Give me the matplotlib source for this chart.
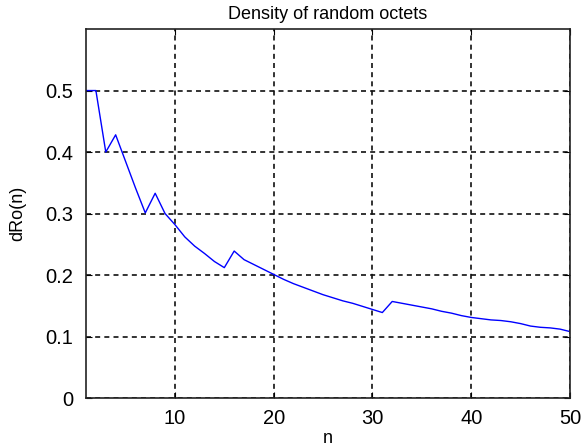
#!/usr/bin/env python3
"""Density of random octets, dRo(n) for n = 1..50 (MATLAB-style figure)."""

import matplotlib
matplotlib.use("Agg")
import matplotlib.pyplot as plt

n = list(range(1, 51))
dro = [
    0.500, 0.500, 0.400, 0.428, 0.385, 0.342, 0.301, 0.333, 0.300, 0.282,
    0.262, 0.247, 0.235, 0.222, 0.212, 0.239, 0.225, 0.217, 0.209, 0.201,
    0.193, 0.186, 0.180, 0.174, 0.168, 0.163, 0.158, 0.154, 0.149, 0.144,
    0.139, 0.157, 0.154, 0.151, 0.148, 0.145, 0.141, 0.138, 0.134, 0.131,
    0.129, 0.127, 0.126, 0.124, 0.121, 0.117, 0.115, 0.114, 0.112, 0.108,
]
xticks = [10, 20, 30, 40, 50]
yticks = [0, 0.1, 0.2, 0.3, 0.4, 0.5]
ytick_labels = ["0", "0.1", "0.2", "0.3", "0.4", "0.5"]

plt.rcParams["font.family"] = ["Liberation Sans", "DejaVu Sans"]

fig = plt.figure(figsize=(5.82, 4.47), dpi=100)
ax = fig.add_axes([0.1478, 0.1096, 0.8316, 0.8254])
ax.plot(n, dro, color="#0000ff", linewidth=1.0)

ax.set_xlim(1, 50)
ax.set_ylim(0, 0.6)
ax.set_xticks(xticks)
ax.set_yticks(yticks)
ax.set_yticklabels(ytick_labels)
ax.tick_params(direction="in", length=4, top=True, right=True,
               labelsize=14.5, width=0.8)
ax.tick_params(axis="y", pad=9)
ax.tick_params(axis="x", pad=8)
ax.grid(True, color="#111111", linestyle=(0, (3, 2.5)), linewidth=1.2)
for s in ax.spines.values():
    s.set_linewidth(1.2)
    s.set_color("#222222")

ax.set_title("Density of random octets", fontsize=13, pad=7)
ax.set_xlabel("n", fontsize=13, labelpad=1)
ax.set_ylabel("dRo(n)", fontsize=13, labelpad=14)

fig.savefig("out.png", dpi=100)
